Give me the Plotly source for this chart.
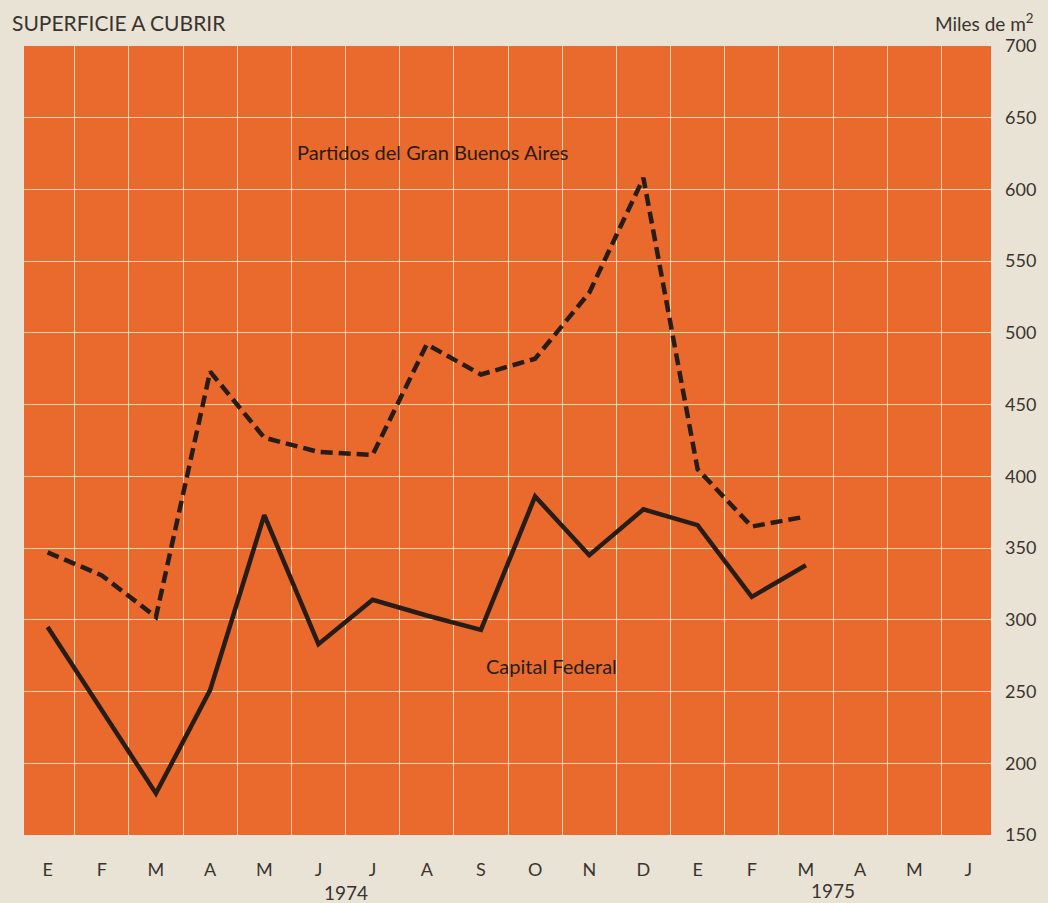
import plotly.graph_objects as go

months = ["E", "F", "M", "A", "M", "J", "J", "A", "S", "O", "N", "D",
          "E", "F", "M", "A", "M", "J"]
years = ["1974", "1975"]
year_pos = [5.5, 14.5]

capital_federal = [295, 237, 179, 251, 373, 283, 314, 303, 293, 386, 345, 377, 366, 316, 338]
gran_buenos_aires = [347, 331, 302, 473, 427, 417, 415, 492, 471, 482, 528, 608, 405, 365, 372]

y_ticks = [150, 200, 250, 300, 350, 400, 450, 500, 550, 600, 650, 700]

ORANGE = "rgb(233,106,44)"
PAPER = "rgb(233,227,214)"
GRID = "rgba(250,222,188,0.9)"
INK = "rgb(40,28,22)"
TEXT = "rgb(58,52,47)"
FONT = "Lato, 'Open Sans', sans-serif"

x_idx = list(range(len(months)))

fig = go.Figure()
fig.add_trace(go.Scatter(
    x=x_idx[:len(gran_buenos_aires)], y=gran_buenos_aires, mode="lines",
    line=dict(color=INK, width=4.5, dash="12px,6px"),
    name="Partidos del Gran Buenos Aires"))
fig.add_trace(go.Scatter(
    x=x_idx[:len(capital_federal)], y=capital_federal, mode="lines",
    line=dict(color=INK, width=4.5),
    name="Capital Federal"))

fig.update_layout(
    width=1048, height=903,
    paper_bgcolor=PAPER, plot_bgcolor=ORANGE,
    margin=dict(l=24, r=51, t=46, b=68),
    showlegend=False,
    font=dict(family=FONT, color=TEXT, size=16),
    xaxis=dict(
        range=[-0.436, 17.417],
        tickmode="array", tickvals=x_idx, ticktext=months,
        showgrid=False, zeroline=False, showline=False, ticks="",
        ticklabelstandoff=22,
        tickfont=dict(size=18, color=TEXT, family=FONT),
        minor=dict(tickmode="array",
                   tickvals=[i + 0.5 for i in range(len(months) - 1)],
                   showgrid=True, gridcolor=GRID, gridwidth=1.3, ticks=""),
    ),
    yaxis=dict(
        range=[150, 700], side="right",
        tickmode="array", tickvals=y_ticks,
        ticktext=[str(v) for v in y_ticks],
        showgrid=False, zeroline=False, showline=False, ticks="",
        ticklabelstandoff=13,
        tickfont=dict(size=18, color=TEXT, family=FONT),
        minor=dict(tickmode="array", tickvals=y_ticks[1:-1],
                   showgrid=True, gridcolor=GRID, gridwidth=1.3, ticks=""),
    ),
)

annotations = [
    dict(text="SUPERFICIE A CUBRIR", xref="paper", yref="paper",
         x=-0.0144, y=1.030, xanchor="left", yanchor="middle", showarrow=False,
         font=dict(size=21, color=TEXT, family=FONT)),
    dict(text="Miles de m<sup>2</sup>", xref="paper", yref="paper",
         x=1.047, y=1.030, xanchor="right", yanchor="middle", showarrow=False,
         font=dict(size=19, color=TEXT, family=FONT)),
    dict(text="Partidos del Gran Buenos Aires", xref="x", yref="y",
         x=7.1, y=626, xanchor="center", yanchor="middle", showarrow=False,
         font=dict(size=20, color=INK, family=FONT)),
    dict(text="Capital Federal", xref="x", yref="y",
         x=9.3, y=268, xanchor="center", yanchor="middle", showarrow=False,
         font=dict(size=20, color=INK, family=FONT)),
]
for yr, xp, yp in zip(years, year_pos, [-0.0735, -0.0705]):
    annotations.append(dict(text=yr, xref="x", yref="paper", x=xp, y=yp,
                            xanchor="center", yanchor="middle", showarrow=False,
                            font=dict(size=19, color=TEXT, family=FONT)))
fig.update_layout(annotations=annotations)

fig.write_html("out.html",
               config={"displayModeBar": False},
               post_script="document.body.style.margin='0';document.body.style.background='rgb(233,227,214)';")
